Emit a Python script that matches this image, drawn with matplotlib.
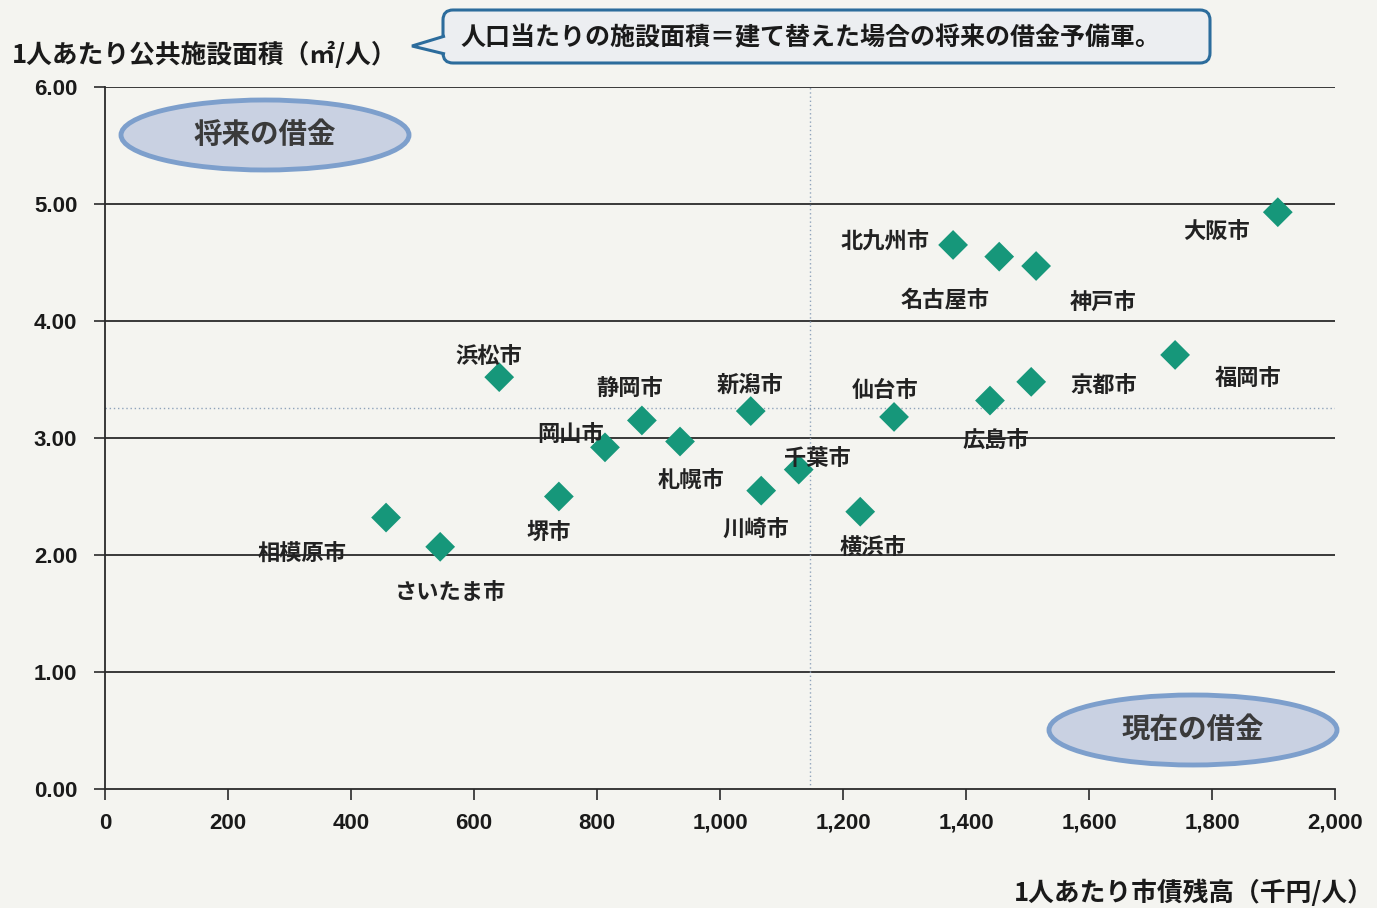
import matplotlib
matplotlib.use("Agg")
import matplotlib.pyplot as plt
from matplotlib.patches import Ellipse, Polygon, FancyBboxPatch
from matplotlib.transforms import IdentityTransform
from matplotlib.ticker import FuncFormatter

plt.rcParams['font.family'] = ['Noto Sans CJK JP', 'DejaVu Sans']

# ==================== データ ====================
cities = ["相模原市", "さいたま市", "浜松市", "堺市", "岡山市", "静岡市", "札幌市",
          "新潟市", "川崎市", "千葉市", "横浜市", "仙台市", "北九州市", "名古屋市",
          "神戸市", "広島市", "京都市", "福岡市", "大阪市"]
debt = [457, 545, 641, 738, 813, 873, 935,
        1050, 1067, 1128, 1228, 1283, 1379, 1454,
        1514, 1439, 1506, 1740, 1907]          # 1人あたり市債残高（千円/人）
area = [2.32, 2.07, 3.52, 2.50, 2.92, 3.15, 2.97,
        3.23, 2.55, 2.73, 2.37, 3.18, 4.65, 4.55,
        4.47, 3.32, 3.48, 3.71, 4.93]          # 1人あたり公共施設面積（㎡/人）
mean_debt = 1146
mean_area = 3.26

# ラベル位置（点からのずれ, pixels）
label_offsets = {
    "相模原市": (-84, -37), "さいたま市": (10, -46), "浜松市": (-10, 20),
    "堺市": (-10, -36), "岡山市": (-34, 12), "静岡市": (-12, 31),
    "札幌市": (11, -40), "新潟市": (-1, 26), "川崎市": (-5, -40),
    "千葉市": (19, 11), "横浜市": (13, -37), "仙台市": (-9, 26),
    "北九州市": (-68, 4), "名古屋市": (-54, -43), "神戸市": (67, -37),
    "広島市": (6, -41), "京都市": (73, -5), "福岡市": (73, -24),
    "大阪市": (-61, -20),
}

bg = "#f4f4f0"
W, H = 1377, 908
fig = plt.figure(figsize=(W / 100, H / 100), dpi=100, facecolor=bg)
ax = fig.add_axes([105 / W, 1 - 789 / H, 1230 / W, 702 / H], facecolor=bg)

# ==================== グリッドと軸 ====================
for y in range(1, 7):
    ax.axhline(y, color="#2a2a2a", lw=1.3, zorder=1)
ax.axvline(mean_debt, color="#8fa3bb", lw=1.0, ls=(0, (1, 2)), zorder=1)
ax.axhline(mean_area, color="#8fa3bb", lw=1.0, ls=(0, (1, 2)), zorder=1)

ax.set_xlim(0, 2000)
ax.set_ylim(0, 6)
ax.set_xticks(range(0, 2001, 200))
ax.set_yticks(range(0, 7))
ax.xaxis.set_major_formatter(FuncFormatter(lambda v, p: f"{int(v):,}"))
ax.yaxis.set_major_formatter(FuncFormatter(lambda v, p: f"{v:.2f}"))
for s in ["top", "right"]:
    ax.spines[s].set_visible(False)
for s in ["left", "bottom"]:
    ax.spines[s].set_color("#2a2a2a")
    ax.spines[s].set_linewidth(1.3)
ax.tick_params(axis="both", direction="out", length=8, width=1.2, color="#2a2a2a",
               labelsize=16, labelcolor="#1a1a1a")
ax.tick_params(axis="x", pad=9)
ax.tick_params(axis="y", pad=12)
for lab in ax.get_xticklabels() + ax.get_yticklabels():
    lab.set_fontweight("bold")
    lab.set_family(["Liberation Sans", "DejaVu Sans"])

# ==================== 散布図 ====================
ax.scatter(debt, area, marker="D", s=230, color="#16977a", edgecolor="none", zorder=3)
for name, x, y in zip(cities, debt, area):
    ax.annotate(name, (x, y), xytext=label_offsets[name], textcoords="offset pixels",
                ha="center", va="center", fontsize=16, fontweight="bold",
                color="#222222", zorder=4)

# ==================== 軸タイトル ====================
fig.text(12 / W, 1 - 55 / H, "1人あたり公共施設面積（㎡/人）", fontsize=18.5,
         fontweight="bold", color="#1a1a1a", va="center", ha="left")
fig.text(1374 / W, 1 - 893 / H, "1人あたり市債残高（千円/人）", fontsize=18.5,
         fontweight="bold", color="#1a1a1a", va="center", ha="right")

# ==================== 吹き出し ====================
box = FancyBboxPatch((443, H - 63), 767, 53, boxstyle="round,pad=0,rounding_size=10",
                     transform=IdentityTransform(), fc="#eceef1", ec="#2c6c9c",
                     lw=2.2, zorder=5)
fig.patches.append(box)
ptr = Polygon([[445, H - 36], [412, H - 46], [445, H - 54]], closed=False,
              transform=IdentityTransform(), fc="#eceef1", ec="#2c6c9c",
              lw=2.2, zorder=6)
fig.patches.append(ptr)
fig.text(810 / W, 1 - 38 / H, "人口当たりの施設面積＝建て替えた場合の将来の借金予備軍。",
         fontsize=18, fontweight="bold", color="#1a1a1a", ha="center", va="center",
         zorder=7)

# ==================== 楕円 ====================
for cx, cy, txt in [(265, 135, "将来の借金"), (1193, 730, "現在の借金")]:
    e = Ellipse((cx / W, 1 - cy / H), 288 / W, 70 / H, transform=fig.transFigure,
                fc="#c9d1e2", ec="#7d9fcc", lw=3.5, zorder=5)
    fig.patches.append(e)
    fig.text(cx / W, 1 - cy / H, txt, fontsize=20.5, fontweight="bold",
             color="#3a3a3a", ha="center", va="center", zorder=6)

fig.savefig("out.png", dpi=100, facecolor=bg)
